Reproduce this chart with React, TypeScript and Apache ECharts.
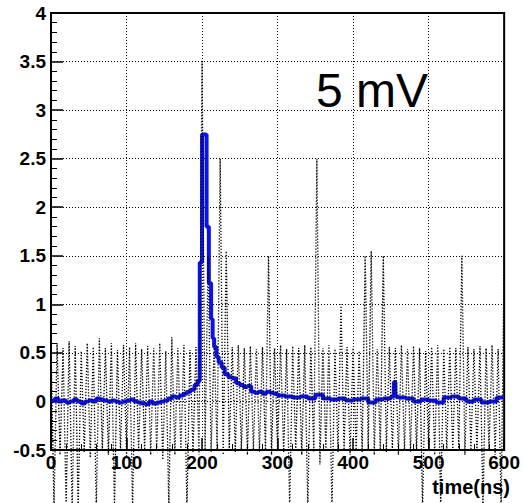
import React, { useEffect, useRef } from "react";
import * as echarts from "echarts";

// Blue averaged waveform (time in ns, amplitude)
const blueTime = [
  0, 5, 10, 15, 20, 25, 30, 35, 40, 45, 50, 55, 60, 65, 70, 75, 80, 85, 90, 95,
  100, 105, 110, 115, 120, 125, 130, 135, 140, 145, 150, 155, 160, 165, 170, 175,
  180, 185, 190, 194, 197, 200, 206, 209, 212, 214, 216, 219, 222, 226, 230, 235,
  240, 245, 250, 255, 260, 265, 270, 275, 280, 285, 290, 295, 300, 310, 320, 330,
  340, 350, 360, 370, 380, 390, 400, 410, 420, 430, 440, 450, 454, 456, 460, 470,
  480, 490, 500, 510, 520, 530, 540, 550, 560, 570, 580, 590, 600,
];
const blueValue = [
  0.01, 0.03, 0.0, 0.01, -0.01, 0.0, 0.02, 0.0, -0.02, 0.0, 0.01, 0.0, 0.03, 0.02,
  0.01, 0.0, 0.01, 0.0, -0.01, 0.0, 0.01, 0.02, 0.0, -0.01, -0.02, -0.03, 0.0,
  -0.02, -0.01, 0.0, 0.01, 0.03, 0.05, 0.04, 0.06, 0.08, 0.1, 0.12, 0.17, 0.21,
  1.43, 2.75, 1.8, 1.22, 0.85, 0.65, 0.56, 0.46, 0.4, 0.35, 0.28, 0.25, 0.24, 0.19,
  0.17, 0.15, 0.16, 0.1, 0.09, 0.1, 0.08, 0.1, 0.09, 0.08, 0.06, 0.05, 0.04, 0.05,
  0.03, 0.07, 0.03, 0.02, 0.03, 0.01, 0.02, 0.03, -0.01, 0.02, 0.03, 0.05, 0.2,
  0.05, 0.04, 0.03, 0.0, 0.02, 0.01, -0.01, 0.04, 0.05, 0.03, 0.0, 0.02, -0.01,
  0.0, 0.04, 0.04,
];

// Black dotted raw traces: upper turning points at 0, 8, 16 ... 600 ns
const blackTop = [
  0.58, 0.6, 0.55, 0.62, 0.57, 0.52, 0.6, 0.56, 0.65, 0.55, 0.6, 0.53, 0.58, 0.56,
  0.6, 0.54, 0.57, 0.55, 0.6, 0.52, 0.66, 0.55, 0.58, 0.53, 0.56, 3.5, 1.5, 0.6,
  2.5, 1.55, 0.56, 0.58, 0.55, 0.57, 0.54, 0.56, 1.5, 0.55, 0.58, 0.54, 0.57, 0.55,
  0.58, 0.56, 2.5, 0.55, 0.58, 0.54, 1.0, 0.56, 0.55, 0.52, 1.5, 1.55, 0.54, 1.5,
  0.56, 0.55, 0.58, 0.54, 0.57, 0.55, 0.52, 0.56, 0.58, 0.54, 0.56, 0.55, 1.5,
  0.56, 0.54, 0.57, 0.55, 0.58, 0.54, 1.5,
];
// lower turning points at 4, 12, 20 ... 596 ns
const blackBottom = [
  -1.1, -0.55, -1.1, -1.1, -1.1, -0.52, -0.58, -1.1, -0.5, -0.55, -1.1, -0.5,
  -0.56, -1.1, -0.52, -0.5, -0.55, -0.5, -0.6, -1.1, -0.55, -0.5, -1.1, -0.52,
  -0.55, -0.5, -0.52, -0.5, -0.55, -0.5, -0.52, -0.5, -0.55, -0.5, -0.52, -0.5,
  -0.55, -0.5, -0.52, -1.1, -0.5, -0.55, -1.1, -0.52, -0.65, -0.5, -1.1, -0.52,
  -0.5, -0.55, -0.5, -0.52, -0.5, -0.55, -0.5, -0.52, -0.5, -0.55, -0.5, -0.52,
  -0.5, -1.1, -0.5, -0.55, -1.1, -0.5, -0.52, -0.5, -0.55, -0.5, -0.52, -1.1,
  -0.5, -0.55, -1.1,
];
const blackStep = 8;

const annotation = "5 mV";
const xTitle = "time(ns)";

export default function App() {
  const ref = useRef<HTMLDivElement>(null);

  useEffect(() => {
    if (!ref.current) return;
    const chart = echarts.init(ref.current, null, { renderer: "svg" });

    const blueData = blueTime.map((t, i) => [t, blueValue[i]]);
    const blackData: number[][] = [];
    blackTop.forEach((v, i) => {
      blackData.push([i * blackStep, v]);
      if (i < blackBottom.length) blackData.push([i * blackStep + blackStep / 2, blackBottom[i]]);
    });

    const labelFont = {
      color: "#000",
      fontFamily: "Liberation Sans",
      fontWeight: "bold" as const,
      fontSize: 19,
    };
    const gridLine = { show: true, lineStyle: { color: "#000", type: [1, 2], width: 1 } };

    chart.setOption({
      animation: false,
      backgroundColor: "#fff",
      grid: {
        left: 51,
        top: 13,
        width: 458,
        height: 437,
        show: true,
        borderColor: "#000",
        borderWidth: 2,
        backgroundColor: "transparent",
      },
      xAxis: {
        type: "value",
        min: 0,
        max: 600,
        interval: 100,
        axisLine: { show: true, onZero: false, lineStyle: { color: "#000", width: 2 } },
        axisTick: { show: true, inside: true, length: 12, lineStyle: { color: "#000", width: 1.5 } },
        minorTick: { show: true, splitNumber: 5, length: 6, lineStyle: { color: "#000", width: 1 } },
        axisLabel: { ...labelFont, margin: 3 },
        splitLine: gridLine,
      },
      yAxis: {
        type: "value",
        min: -0.5,
        max: 4,
        interval: 0.5,
        axisLine: { show: true, onZero: false, lineStyle: { color: "#000", width: 2 } },
        axisTick: { show: true, inside: true, length: 12, lineStyle: { color: "#000", width: 1.5 } },
        minorTick: { show: true, splitNumber: 5, length: 6, lineStyle: { color: "#000", width: 1 } },
        axisLabel: { ...labelFont, margin: 5 },
        splitLine: gridLine,
      },
      series: [
        {
          type: "line",
          data: blueData,
          step: "end",
          symbol: "none",
          lineStyle: { color: "#0c12ee", width: 4 },
          z: 3,
        },
        {
          type: "line",
          data: blackData,
          symbol: "none",
          clip: false,
          lineStyle: { color: "#000", width: 1.3, type: [1.3, 1.7] },
          z: 4,
        },
      ],
      graphic: [
        {
          type: "text",
          x: 316,
          y: 90,
          z: 10,
          style: {
            text: annotation,
            font: '48px "Liberation Sans"',
            fill: "#000",
            verticalAlign: "middle",
          },
        },
        {
          type: "text",
          x: 510,
          y: 487,
          z: 10,
          style: {
            text: xTitle,
            font: 'bold 20px "Liberation Sans"',
            fill: "#000",
            align: "right",
            verticalAlign: "middle",
          },
        },
      ],
    });

    return () => chart.dispose();
  }, []);

  return (
    <div
      ref={ref}
      style={{ position: "absolute", left: 0, top: 0, width: 523, height: 503, background: "#fff" }}
    />
  );
}
